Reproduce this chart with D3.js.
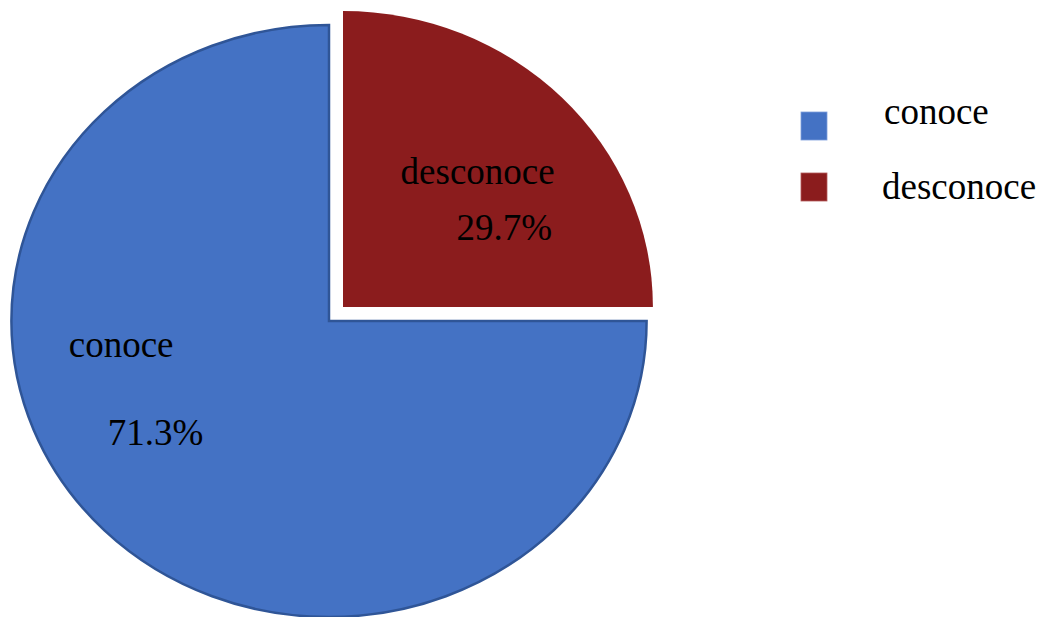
<!DOCTYPE html>
<html>
<head>
<meta charset="utf-8">
<script src="https://cdn.jsdelivr.net/npm/d3@7/dist/d3.min.js"></script>
<style>
  html, body { margin: 0; padding: 0; background: #fff; }
  svg { display: block; }
  text { font-family: "Liberation Serif", "Times New Roman", serif; fill: #000; }
</style>
</head>
<body>
<svg id="chart" width="1042" height="617"></svg>
<script>
// ---- data ----
const categories = ["conoce", "desconoce"];
const sliceShares = [75, 25];            // angular share as drawn in the picture
const labelTexts = ["71.3%", "29.7%"];   // percentage labels as printed
const colors = ["#4472C4", "#8B1C1D"];

// ---- layout ----
const svg = d3.select("#chart");
const R = 296;
const FS = 37;
const center = { x: 329, y: 321 };
const explode = [ {dx: 0, dy: 0, sx: 1.073}, {dx: 14, dy: -14, sx: 1.047} ];

const pie = d3.pie().sort(null).value(d => d)
  .startAngle(Math.PI / 2).endAngle(Math.PI / 2 + 2 * Math.PI);
const arcs = pie(sliceShares);
const arc = d3.arc().innerRadius(0).outerRadius(R);

const g = svg.append("g");
arcs.forEach((a, i) => {
  const e = explode[i];
  g.append("g")
    .attr("transform", `translate(${center.x + e.dx},${center.y + e.dy}) scale(${e.sx},1)`)
    .append("path")
    .attr("d", arc(a))
    .attr("fill", colors[i])
    .attr("stroke", i === 0 ? "#2F5597" : "none")
    .attr("stroke-width", 2.5)
    .attr("vector-effect", "non-scaling-stroke");
});

// ---- data labels (positioned relative to slice centroid) ----
const labelOffsets = [
  { name: [-148, -69], pct: [-109, 19] },
  { name: [-52, -18], pct: [4, 38] }
];
arcs.forEach((a, i) => {
  const e = explode[i];
  const c = arc.centroid(a);
  const cx = center.x + e.dx + c[0] * e.sx;
  const cy = center.y + e.dy + c[1];
  const o = labelOffsets[i];
  svg.append("text").attr("x", cx + o.name[0]).attr("y", cy + o.name[1])
    .attr("font-size", FS).text(categories[i]);
  svg.append("text").attr("x", cx + o.pct[0]).attr("y", cy + o.pct[1])
    .attr("font-size", FS).text(labelTexts[i]);
});

// ---- legend ----
const legend = svg.append("g").attr("transform", "translate(801,112)");
const legendRows = [{ sw: 0, tx: 83, ty: 12 }, { sw: 61, tx: 81, ty: 87 }];
categories.forEach((c, i) => {
  const r = legendRows[i];
  legend.append("rect").attr("x", 0).attr("y", r.sw).attr("width", 26).attr("height", 28)
    .attr("fill", colors[i]).attr("stroke", i === 0 ? "#7E9FDB" : "#B35A5B").attr("stroke-width", 0.8);
  legend.append("text").attr("x", r.tx).attr("y", r.ty).attr("font-size", FS).text(c);
});
</script>
</body>
</html>
